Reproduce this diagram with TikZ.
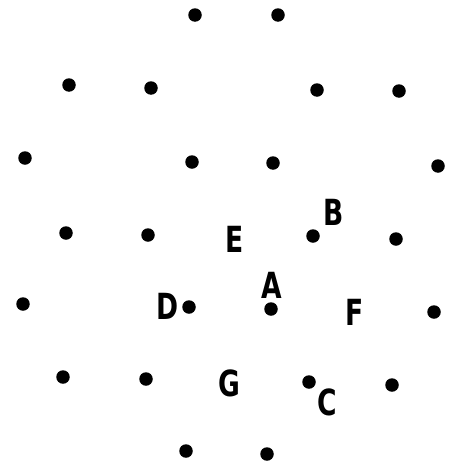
\documentclass[tikz,border=0pt]{standalone}
\usepackage{fontspec}
\newfontfamily\lblfont{DejaVu Sans Condensed}[BoldFont={DejaVu Sans Condensed Bold}]
\begin{document}
\begin{tikzpicture}[x=1pt,y=-1pt,
  pt/.style={circle,fill=black,inner sep=0pt,minimum size=13.5pt},
  lbl/.style={inner sep=0pt,xscale=0.82,font=\lblfont\bfseries\fontsize{36}{36}\selectfont}]
\useasboundingbox (0,0) rectangle (448,466);
% dots
\node[pt] (p1) at (195,15) {};
\node[pt] (p2) at (278,15) {};
\node[pt] (p3) at (69,85) {};
\node[pt] (p4) at (151,88) {};
\node[pt] (p5) at (317,90) {};
\node[pt] (p6) at (399,91) {};
\node[pt] (p7) at (25,158) {};
\node[pt] (p8) at (192,162) {};
\node[pt] (p9) at (273,163) {};
\node[pt] (p10) at (438,166) {};
\node[pt] (p11) at (66,233) {};
\node[pt] (p12) at (148,235) {};
\node[pt] (p13) at (313,236) {};
\node[pt] (p14) at (396,239) {};
\node[pt] (p15) at (23,304) {};
\node[pt] (p16) at (189,307) {};
\node[pt] (p17) at (271,309) {};
\node[pt] (p18) at (434,312) {};
\node[pt] (p19) at (63,377) {};
\node[pt] (p20) at (146,379) {};
\node[pt] (p21) at (309,382) {};
\node[pt] (p22) at (392,385) {};
\node[pt] (p23) at (186,451) {};
\node[pt] (p24) at (267,454) {};
% labels
\node[lbl] (B) at (334,212) {B};
\node[lbl] (E) at (235,239) {E};
\node[lbl] (A) at (272,285) {A};
\node[lbl] (D) at (168,306) {D};
\node[lbl] (F) at (355,312) {F};
\node[lbl] (G) at (229,383) {G};
\node[lbl] (C) at (327,402) {C};
\end{tikzpicture}
\end{document}
